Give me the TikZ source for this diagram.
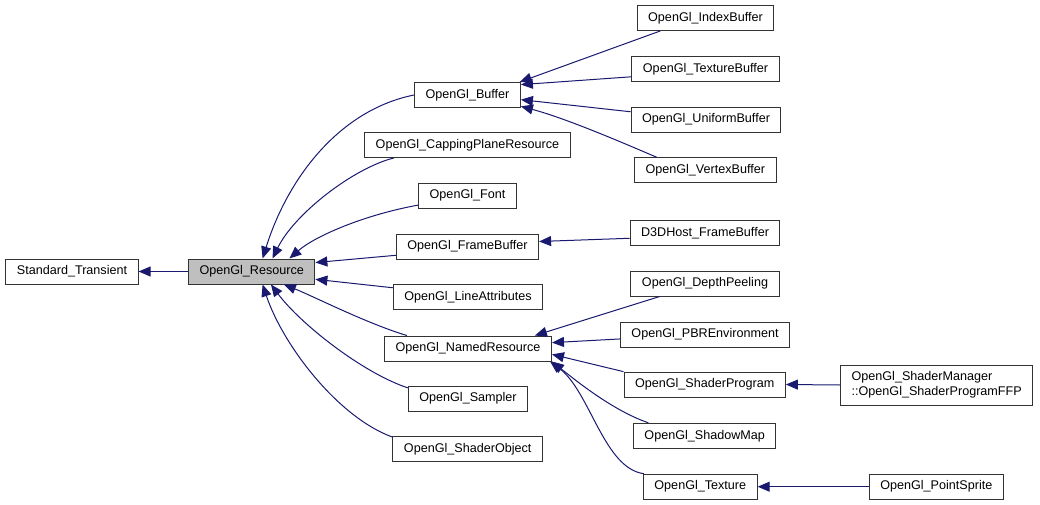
\documentclass[tikz,border=0pt]{standalone}
\usepackage{fontspec}
\setmainfont{Liberation Sans}
\usepackage{tikz}
\usetikzlibrary{arrows.meta}
\definecolor{edgeblue}{HTML}{191970}
\definecolor{basegray}{HTML}{BFBFBF}

\begin{document}
\begin{tikzpicture}[
		x=1pt, y=-1pt,
		cls/.style={draw=black!80, line width=1pt, fill=white, inner xsep=11pt, inner ysep=0pt,
			minimum height=25pt, font=\fontsize{12.6}{15}\selectfont},
		hit/.style={cls, fill=basegray},
		inh/.style={draw=edgeblue, line width=1pt, ->},
		>={Triangle[length=12pt,width=10pt]}]
	\useasboundingbox (0,0) rectangle (1040,505);
	%% define classes
	\node (st) at (72,271.5) [cls] {Standard\_Transient};
	\node (res) at (251.7,271.5) [hit] {OpenGl\_Resource};
	\node (buf) at (467.5,95) [cls] {OpenGl\_Buffer};
	\node (cap) at (467.5,145) [cls] {OpenGl\_CappingPlaneResource};
	\node (fnt) at (467.5,195.5) [cls] {OpenGl\_Font};
	\node (fb) at (467.5,246.5) [cls] {OpenGl\_FrameBuffer};
	\node (la) at (468,297) [cls] {OpenGl\_LineAttributes};
	\node (nr) at (468,348.5) [cls] {OpenGl\_NamedResource};
	\node (smp) at (468,398.5) [cls] {OpenGl\_Sampler};
	\node (so) at (467.7,449) [cls] {OpenGl\_ShaderObject};
	\node (ib) at (705.5,18) [cls] {OpenGl\_IndexBuffer};
	\node (tb) at (705.5,69) [cls] {OpenGl\_TextureBuffer};
	\node (ub) at (706,119.7) [cls] {OpenGl\_UniformBuffer};
	\node (vb) at (705.3,170.3) [cls] {OpenGl\_VertexBuffer};
	\node (d3d) at (705,233) [cls] {D3DHost\_FrameBuffer};
	\node (dp) at (705,283.5) [cls] {OpenGl\_DepthPeeling};
	\node (pbr) at (705,334.5) [cls] {OpenGl\_PBREnvironment};
	\node (sp) at (704.7,384.5) [cls] {OpenGl\_ShaderProgram};
	\node (sm) at (704.7,435.8) [cls] {OpenGl\_ShadowMap};
	\node (tex) at (700.3,486.7) [cls] {OpenGl\_Texture};
	\node (ffp) at (936.7,385) [cls, align=left, minimum height=40pt] {OpenGl\_ShaderManager\\::OpenGl\_ShaderProgramFFP};
	\node (ps) at (936.3,486.7) [cls] {OpenGl\_PointSprite};
	%% base class
	\draw[inh] (res.west) -- (st.east);
	%% children of the resource
	\draw[inh] (buf.west) .. controls +(-75,15) and +(25,-80) .. (res.50);
	\draw[inh] (cap.190) .. controls +(-40,10) and +(22,-45) .. (res.32);
	\draw[inh] (fnt.191) .. controls +(-55,10) and +(25,-22) .. (res.19);
	\draw[inh] (fb.187) -- (res.8);
	\draw[inh] (la.173) -- (res.-7);
	\draw[inh] (nr.168) .. controls +(-40,-12) and +(30,12) .. (res.-22);
	\draw[inh] (smp.170) .. controls +(-45,-15) and +(30,40) .. (res.-34);
	\draw[inh] (so.171) .. controls +(-55,-20) and +(20,60) .. (res.-50);
	%% buffers
	\draw[inh] (ib.196) -- (buf.14);
	\draw[inh] (tb.186) -- (buf.11);
	\draw[inh] (ub.174) -- (buf.-5);
	\draw[inh] (vb.165) .. controls +(-35,-15) and +(45,12) .. (buf.-12);
	\draw[inh] (d3d.184) -- (fb.4);
	%% named resources
	\draw[inh] (dp.196) -- (nr.11);
	\draw[inh] (pbr.183) -- (nr.4);
	\draw[inh] (sp.171) -- (nr.-4);
	\draw[inh] (sm.167) .. controls +(-35,-12) and +(25,20) .. (nr.south east);
	\draw[inh] (tex.167) .. controls +(-40,-5) and +(40,30) .. (nr.-9);
	%% last level
	\draw[inh] (ffp.west) -- (sp.east);
	\draw[inh] (ps.west) -- (tex.east);
\end{tikzpicture}
\end{document}
